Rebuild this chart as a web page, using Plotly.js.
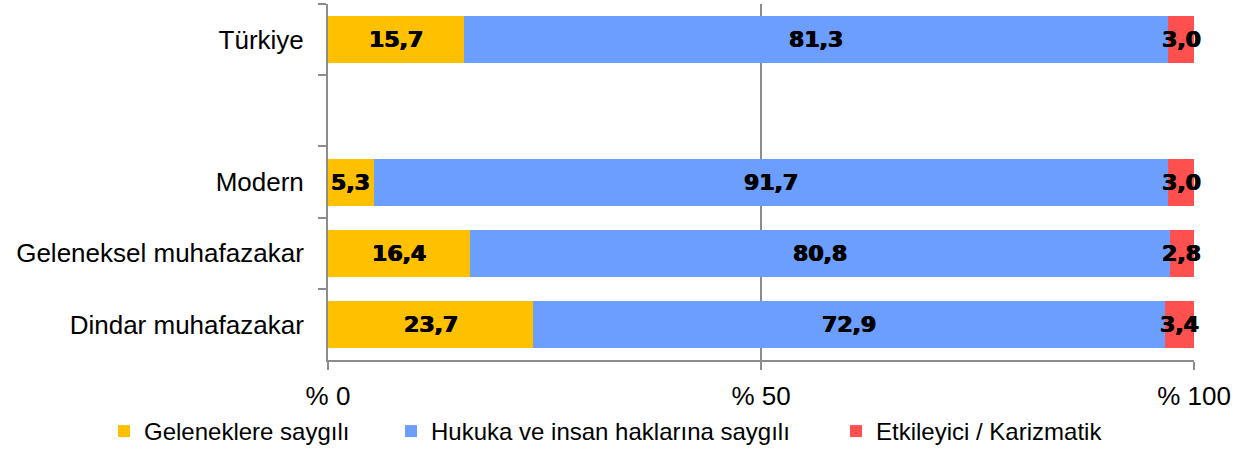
<!DOCTYPE html>
<html>
<head>
<meta charset="utf-8">
<script src="https://cdn.plot.ly/plotly-3.0.1.min.js"></script>
<style>html,body{margin:0;padding:0;background:#fff;}#chart{width:1250px;height:454px;}</style>
</head>
<body>
<div id="chart"></div>
<script>
// Categories, top to bottom (blank = gap row)
const categoryOrder = ['Türkiye', ' ', 'Modern', 'Geleneksel muhafazakar', 'Dindar muhafazakar'];
const categories = ['Türkiye', 'Modern', 'Geleneksel muhafazakar', 'Dindar muhafazakar'];
const seriesNames = ['Geleneklere saygılı', 'Hukuka ve insan haklarına saygılı', 'Etkileyici / Karizmatik'];
const geleneklere = [15.7, 5.3, 16.4, 23.7];
const hukuka = [81.3, 91.7, 80.8, 72.9];
const etkileyici = [3.0, 3.0, 2.8, 3.4];
const colors = ['#FFC000', '#6C9EFF', '#FF5050'];
const xTickVals = [0, 50, 100];
const xTickText = ['% 0', '% 50', '% 100'];

const fmt = v => v.toFixed(1).replace('.', ',');
const seriesValues = [geleneklere, hukuka, etkileyici];
const legendIds = ['legend', 'legend2', 'legend3'];
const legendX = [104, 391, 836];

const traces = seriesValues.map((vals, i) => ({
  type: 'bar',
  orientation: 'h',
  name: seriesNames[i],
  legend: legendIds[i],
  y: categories,
  x: vals,
  marker: {color: colors[i], line: {width: 0}},
  hoverinfo: 'none'
}));

// Value labels centred on each segment (computed from the data)
const annotations = [];
categories.forEach((cat, c) => {
  let start = 0;
  seriesValues.forEach(vals => {
    const v = vals[c];
    annotations.push({
      x: start + v / 2, y: cat, xref: 'x', yref: 'y',
      text: fmt(v), showarrow: false, xanchor: 'center', yanchor: 'middle',
      font: {family: 'DejaVu Sans', size: 22, color: '#000', weight: 'bold',
             shadow: '0.6px 0 0 #000, -0.6px 0 0 #000'}
    });
    start += v;
  });
});

const layout = {
  width: 1250, height: 454,
  barmode: 'stack',
  bargap: 0.34,
  margin: {l: 328, r: 56, t: 4, b: 94},
  paper_bgcolor: '#fff', plot_bgcolor: '#fff',
  font: {family: 'Liberation Sans, Arial, sans-serif', color: '#000'},
  showlegend: true,
  annotations: annotations,
  xaxis: {
    range: [0, 100],
    tickmode: 'array', tickvals: xTickVals, ticktext: xTickText,
    ticks: 'outside', ticklen: 8, tickwidth: 2, tickcolor: '#8c8c8c',
    showline: true, linecolor: '#8c8c8c', linewidth: 2,
    showgrid: true, gridcolor: '#8c8c8c', gridwidth: 1.5,
    zeroline: false,
    tickfont: {size: 26, color: '#000'},
    ticklabelstandoff: 4,
    fixedrange: true
  },
  yaxis: {
    type: 'category',
    categoryorder: 'array', categoryarray: categoryOrder,
    autorange: 'reversed',
    tickson: 'boundaries',
    ticks: 'outside', ticklen: 8, tickwidth: 2, tickcolor: '#8c8c8c',
    showline: true, linecolor: '#8c8c8c', linewidth: 2,
    showgrid: false, zeroline: false,
    tickfont: {size: 26, color: '#000'},
    ticklabelstandoff: 17,
    fixedrange: true
  }
};
legendIds.forEach((id, i) => {
  layout[id] = {
    orientation: 'h', xref: 'container', yref: 'container',
    x: legendX[i] / 1250, xanchor: 'left', y: 0.0, yanchor: 'bottom',
    font: {size: 24, color: '#000'}, itemwidth: 30, bgcolor: 'rgba(0,0,0,0)'
  };
});

Plotly.newPlot('chart', traces, layout, {displayModeBar: false, staticPlot: true});
</script>
</body>
</html>
